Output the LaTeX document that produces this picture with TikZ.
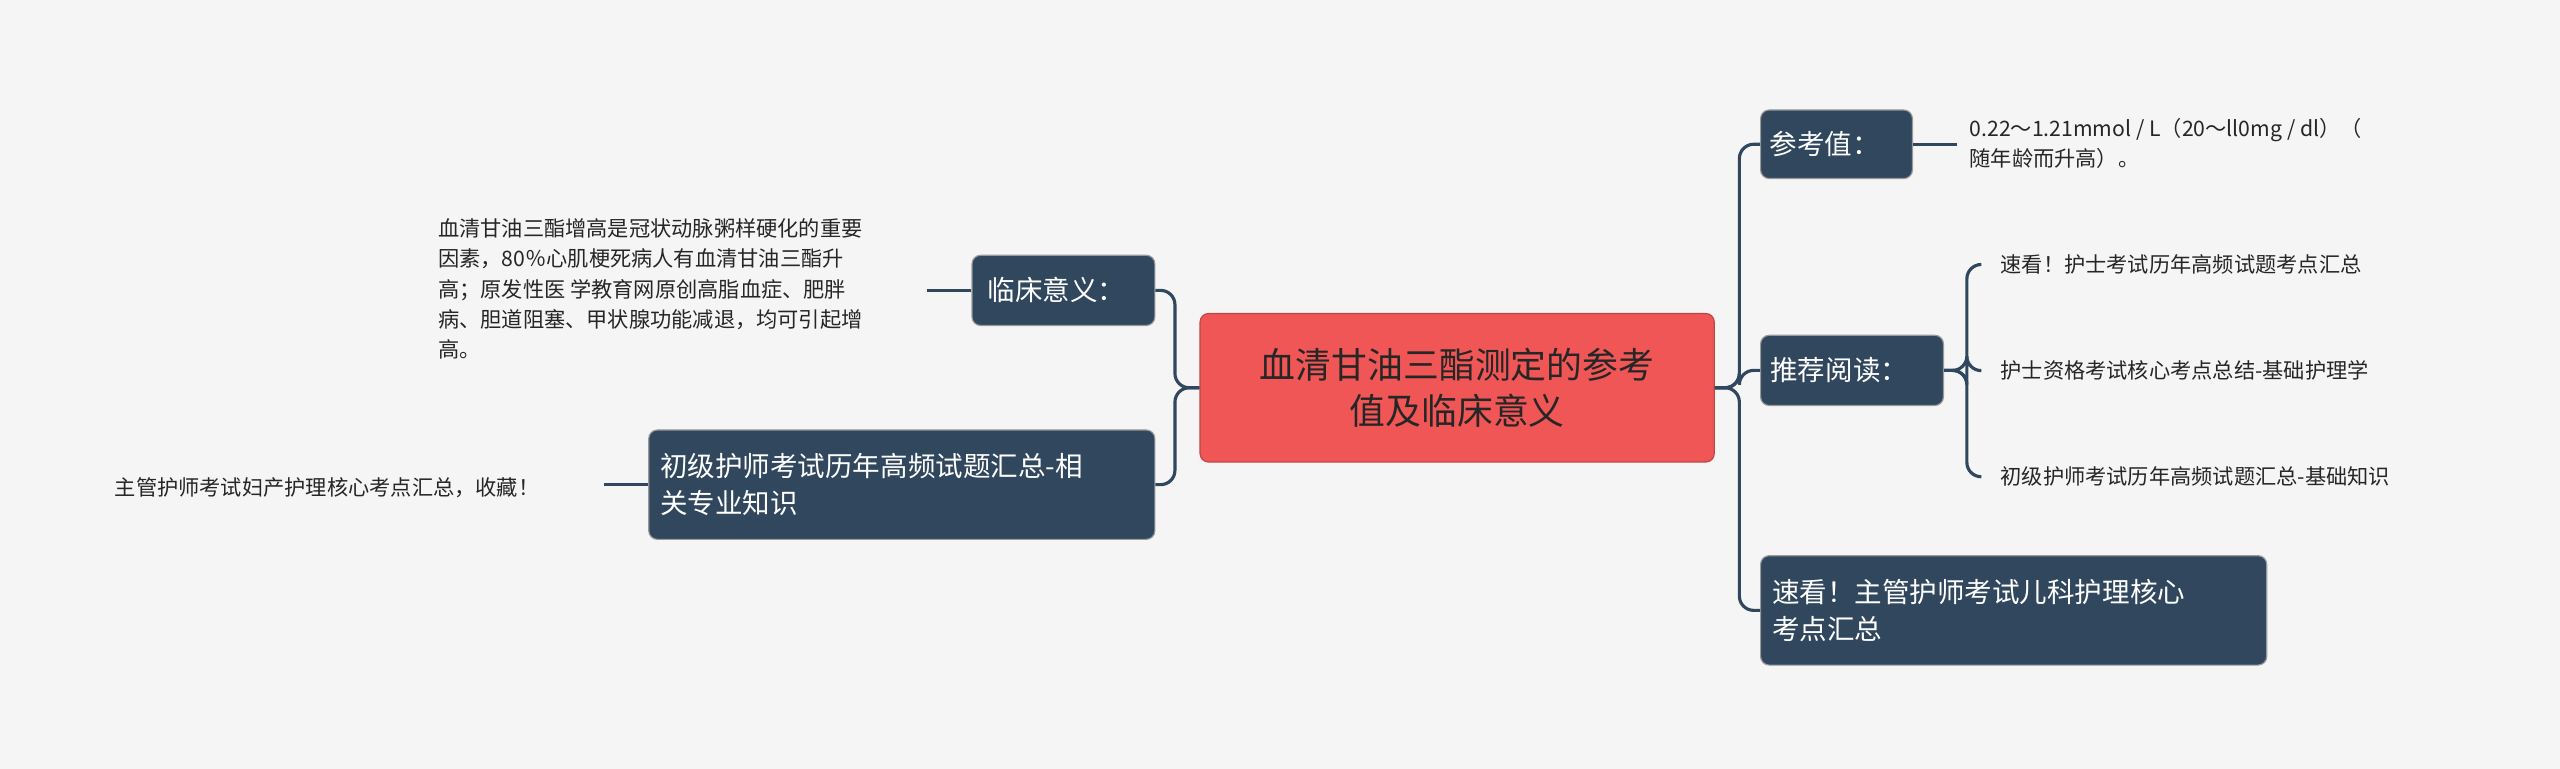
\documentclass[tikz,border=0pt]{standalone}
\usepackage{fontspec}
\setmainfont{Noto Sans CJK SC}
\usetikzlibrary{positioning}
\definecolor{topicred}{HTML}{F05656}
\definecolor{topicdark}{HTML}{30475E}
\definecolor{bgpaper}{HTML}{F5F5F5}
\tikzset{
  rootbox/.style = {draw=topicred!80!black, fill=topicred, rounded corners=3pt, text=black!85, font=\fontsize{12.5}{16}\selectfont, align=center, inner sep=0pt},
  branchbox/.style = {draw=black!40, fill=topicdark, rounded corners=3pt, text=white, font=\fontsize{9.6}{13}\selectfont, align=left, inner sep=0pt},
  leaftext/.style = {font=\fontsize{7.4}{10.5}\selectfont, align=left, inner sep=0pt, anchor=west, text=black!85},
  linkline/.style = {draw=topicdark, line width=1.1pt, rounded corners=5pt},
}
\begin{document}
\begin{tikzpicture}[x=0.02cm, y=-0.02cm]
\useasboundingbox[fill=bgpaper] (0,0) rectangle (1568,471);

% central topic
\node[rootbox, minimum width=315*0.02cm, minimum height=91*0.02cm] (root) at (892.5,237.5)
  {血清甘油三酯测定的参考\\值及临床意义};

% left branches
\node[branchbox, minimum width=112*0.02cm, minimum height=43*0.02cm, anchor=north west, text width=100*0.02cm]
  (clinic) at (595,156) {\hspace{2pt}临床意义：};
\node[branchbox, minimum width=310*0.02cm, minimum height=67*0.02cm, anchor=north west, text width=296*0.02cm]
  (junior) at (397,263) {初级护师考试历年高频试题汇总-相\\关专业知识};
\node[leaftext] (clinictext) at (268,177)
  {血清甘油三酯增高是冠状动脉粥样硬化的重要\\因素，80％心肌梗死病人有血清甘油三酯升\\高；原发性医 学教育网原创高脂血症、肥胖\\病、胆道阻塞、甲状腺功能减退，均可引起增\\高。};
\node[leaftext] (juniortext) at (70,299) {主管护师考试妇产护理核心考点汇总，收藏！};

% right branches
\node[branchbox, minimum width=93*0.02cm, minimum height=42*0.02cm, anchor=north west, text width=82*0.02cm]
  (refval) at (1078,67) {参考值：};
\node[branchbox, minimum width=112*0.02cm, minimum height=43*0.02cm, anchor=north west, text width=100*0.02cm]
  (reading) at (1078,205) {推荐阅读：};
\node[branchbox, minimum width=310*0.02cm, minimum height=67*0.02cm, anchor=north west, text width=296*0.02cm]
  (pediatric) at (1078,340) {速看！主管护师考试儿科护理核心\\考点汇总};
\node[leaftext] (refvaltext) at (1206,88)
  {0.22～1.21mmol / L（20～ll0mg / dl）（\\随年龄而升高）。};
\node[leaftext] (read1) at (1225,162) {速看！护士考试历年高频试题考点汇总};
\node[leaftext] (read2) at (1225,227) {护士资格考试核心考点总结-基础护理学};
\node[leaftext] (read3) at (1225,292) {初级护师考试历年高频试题汇总-基础知识};

% connectors
\draw[linkline] (root.west) -- ++(-15,0) |- (clinic.east);
\draw[linkline] (root.west) -- ++(-15,0) |- (junior.east);
\draw[linkline] (root.east) -- ++(15,0) |- (refval.west);
\draw[linkline] (root.east) -- ++(15,0) |- (reading.west);
\draw[linkline] (root.east) -- ++(15,0) |- (pediatric.west);
\draw[linkline] (clinic.west) -- ++(-27,0);
\draw[linkline] (junior.west) -- ++(-27,0);
\draw[linkline] (refval.east) -- ++(27,0);
\draw[linkline] (reading.east) -- ++(14,0) |- ([xshift=-12*0.02cm]read1.west);
\draw[linkline] (reading.east) -- ++(14,0) |- ([xshift=-12*0.02cm]read2.west);
\draw[linkline] (reading.east) -- ++(14,0) |- ([xshift=-12*0.02cm]read3.west);
\end{tikzpicture}
\end{document}
